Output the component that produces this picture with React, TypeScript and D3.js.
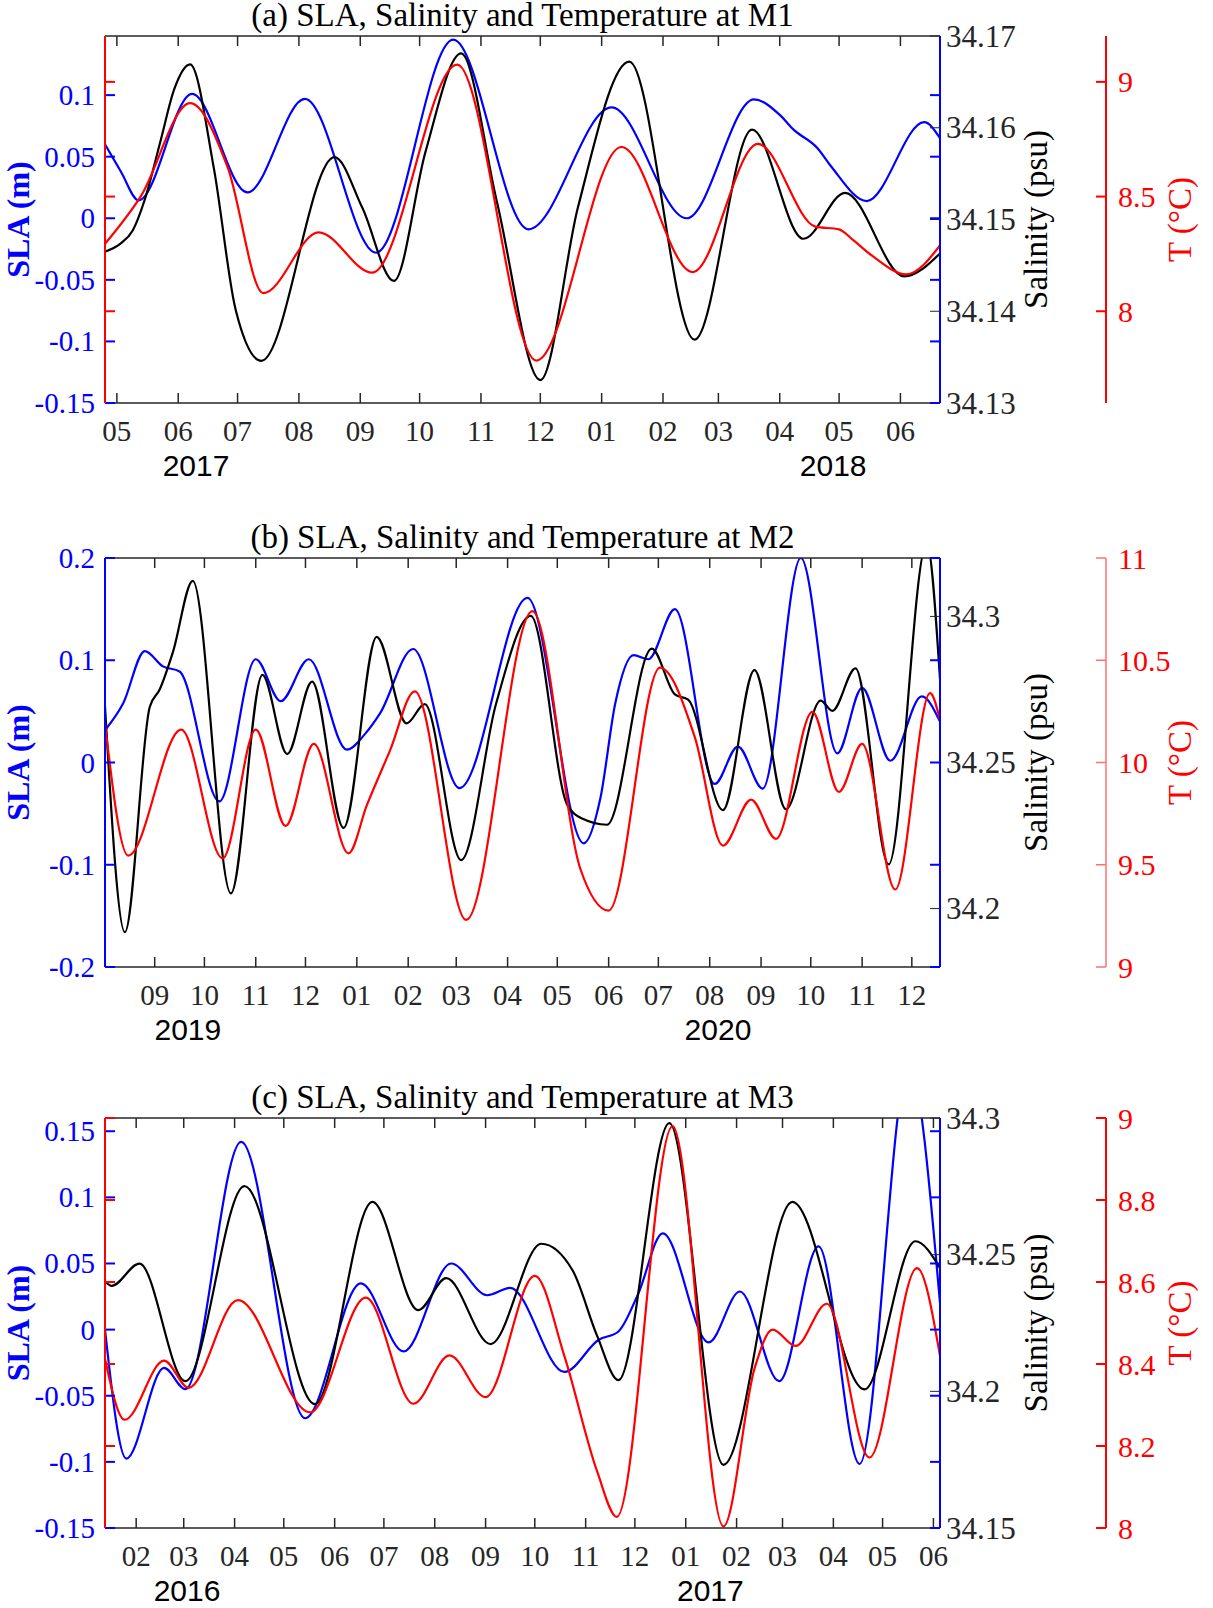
import * as d3 from 'd3';

type Pt = [string, number];

const parse = d3.timeParse('%Y-%m-%d');
const fmtMonth = d3.timeFormat('%m');

const SERIF = '"Liberation Serif", "Times New Roman", serif';
const SANS = '"Liberation Sans", Arial, sans-serif';

const BLUE = '#0000ff';
const RED = '#ff0000';
const AXIS = '#262626';

// ---------- (a) M1 ----------
const M1_SLA: Pt[] = [
  ['2017-04-25', 0.06], ['2017-05-03', 0.038], ['2017-05-12', 0.0146], ['2017-06-08', 0.101],
  ['2017-07-06', 0.021], ['2017-08-04', 0.097], ['2017-09-09', -0.028], ['2017-10-18', 0.145],
  ['2017-11-25', -0.009], ['2018-01-06', 0.09], ['2018-02-13', 0.0], ['2018-03-19', 0.0965],
  ['2018-04-01', 0.084], ['2018-04-08', 0.072], ['2018-04-20', 0.057], ['2018-04-27', 0.042],
  ['2018-05-15', 0.014], ['2018-06-13', 0.078], ['2018-06-21', 0.065],
];
const M1_SAL: Pt[] = [
  ['2017-04-25', 34.1465], ['2017-05-03', 34.1474], ['2017-05-09', 34.1488], ['2017-05-15', 34.1521],
  ['2017-05-23', 34.1585], ['2017-05-30', 34.1642], ['2017-06-07', 34.1669], ['2017-06-19', 34.1556],
  ['2017-06-30', 34.1402], ['2017-07-13', 34.1346], ['2017-08-19', 34.1568],
  ['2017-09-02', 34.1513], ['2017-09-18', 34.1433], ['2017-10-04', 34.1574], ['2017-10-22', 34.1681],
  ['2017-11-09', 34.152], ['2017-12-01', 34.1325], ['2017-12-20', 34.1513], ['2018-01-15', 34.1672],
  ['2018-02-17', 34.1369], ['2018-03-18', 34.1598], ['2018-04-13', 34.1479], ['2018-05-04', 34.1529],
  ['2018-06-03', 34.1438], ['2018-06-21', 34.1463],
];
const M1_TEMP: Pt[] = [
  ['2017-04-25', 8.294], ['2017-05-13', 8.5], ['2017-06-07', 8.907], ['2017-06-26', 8.627],
  ['2017-07-14', 8.079], ['2017-08-11', 8.344], ['2017-09-07', 8.168], ['2017-10-20', 9.075],
  ['2017-11-29', 7.785], ['2018-01-11', 8.716], ['2018-02-16', 8.171], ['2018-03-21', 8.73],
  ['2018-04-19', 8.369], ['2018-05-01', 8.357], ['2018-05-08', 8.311], ['2018-05-18', 8.24],
  ['2018-06-04', 8.161], ['2018-06-21', 8.287],
];
const M1_SLA_TICKS = [-0.15, -0.1, -0.05, 0, 0.05, 0.1];
const M1_SAL_TICKS = [34.13, 34.14, 34.15, 34.16, 34.17];
const M1_T_TICKS = [8, 8.5, 9];
const M1_YEARS: Pt[] = [['2017-06-10', 2017], ['2018-04-28', 2018]];

// ---------- (b) M2 ----------
const M2_SLA: Pt[] = [
  ['2019-08-02', 0.0315], ['2019-08-13', 0.058], ['2019-08-26', 0.109], ['2019-09-06', 0.094],
  ['2019-09-16', 0.089], ['2019-10-10', -0.038], ['2019-11-01', 0.101], ['2019-11-16', 0.06],
  ['2019-12-03', 0.101], ['2019-12-26', 0.0126], ['2020-01-06', 0.028], ['2020-01-15', 0.048],
  ['2020-02-04', 0.111], ['2020-03-03', -0.025], ['2020-04-13', 0.161], ['2020-05-17', -0.079],
  ['2020-05-27', -0.035], ['2020-06-05', 0.058], ['2020-06-16', 0.105], ['2020-06-25', 0.101],
  ['2020-07-11', 0.15], ['2020-08-04', -0.021], ['2020-08-18', 0.0156], ['2020-09-02', -0.0255],
  ['2020-09-25', 0.2], ['2020-10-17', 0.009], ['2020-11-01', 0.073], ['2020-11-18', 0.0017],
  ['2020-12-07', 0.0646], ['2020-12-18', 0.04],
];
const M2_SAL: Pt[] = [
  ['2019-08-02', 34.2692], ['2019-08-14', 34.1919], ['2019-08-29', 34.269], ['2019-09-04', 34.275],
  ['2019-09-12', 34.2878], ['2019-09-24', 34.3122], ['2019-10-17', 34.2052], ['2019-11-05', 34.28],
  ['2019-11-20', 34.2529], ['2019-12-05', 34.2777], ['2019-12-24', 34.2276], ['2020-01-13', 34.293],
  ['2020-01-31', 34.2634], ['2020-02-11', 34.27], ['2020-03-04', 34.2166], ['2020-03-25', 34.27],
  ['2020-04-15', 34.3002], ['2020-05-07', 34.2355], ['2020-05-16', 34.2308], ['2020-05-31', 34.2287],
  ['2020-06-27', 34.289], ['2020-07-11', 34.2733], ['2020-07-19', 34.2715], ['2020-08-09', 34.2337],
  ['2020-08-28', 34.2816], ['2020-09-16', 34.234], ['2020-10-07', 34.2712], ['2020-10-14', 34.2677],
  ['2020-10-28', 34.2822], ['2020-11-17', 34.2151], ['2020-12-10', 34.325], ['2020-12-18', 34.2785],
];
const M2_TEMP: Pt[] = [
  ['2019-08-02', 10.19], ['2019-08-16', 9.545], ['2019-09-17', 10.161], ['2019-10-12', 9.531],
  ['2019-11-01', 10.161], ['2019-11-19', 9.69], ['2019-12-06', 10.091], ['2019-12-27', 9.556],
  ['2020-01-07', 9.79], ['2020-01-21', 10.058], ['2020-02-05', 10.348], ['2020-03-07', 9.23],
  ['2020-04-16', 10.74], ['2020-05-15', 9.478], ['2020-06-01', 9.276], ['2020-07-02', 10.464],
  ['2020-07-23', 10.124], ['2020-08-09', 9.594], ['2020-08-26', 9.818], ['2020-09-10', 9.627],
  ['2020-10-02', 10.248], ['2020-10-18', 9.856], ['2020-11-01', 10.091], ['2020-11-21', 9.379],
  ['2020-12-12', 10.339], ['2020-12-18', 10.207],
];
const M2_SLA_TICKS = [-0.2, -0.1, 0, 0.1, 0.2];
const M2_SAL_TICKS = [34.2, 34.25, 34.3];
const M2_T_TICKS = [9, 9.5, 10, 10.5, 11];
const M2_YEARS: Pt[] = [['2019-09-21', 2019], ['2020-08-06', 2020]];

// ---------- (c) M3 ----------
const M3_SLA: Pt[] = [
  ['2016-01-13', 0.0], ['2016-01-26', -0.0975], ['2016-02-18', -0.029], ['2016-03-02', -0.045],
  ['2016-04-05', 0.142], ['2016-05-14', -0.067], ['2016-06-17', 0.035], ['2016-07-13', -0.0165],
  ['2016-08-11', 0.05], ['2016-09-02', 0.026], ['2016-09-16', 0.0316], ['2016-10-19', -0.032],
  ['2016-11-09', -0.0077], ['2016-11-21', -0.0014], ['2016-12-03', 0.027], ['2016-12-18', 0.0728],
  ['2017-01-15', -0.0096], ['2017-02-03', 0.0288], ['2017-02-27', -0.039], ['2017-03-23', 0.0629],
  ['2017-04-17', -0.1016], ['2017-05-17', 0.2], ['2017-06-05', 0.02],
];
const M3_SAL: Pt[] = [
  ['2016-01-13', 34.2403], ['2016-01-17', 34.2386], ['2016-02-03', 34.2467], ['2016-03-02', 34.2037],
  ['2016-04-07', 34.2751], ['2016-05-20', 34.1953], ['2016-06-24', 34.2693], ['2016-07-22', 34.2297],
  ['2016-08-08', 34.2414], ['2016-09-04', 34.2173], ['2016-10-05', 34.254], ['2016-10-24', 34.2443],
  ['2016-11-08', 34.2203], ['2016-11-21', 34.2041], ['2016-12-22', 34.2981], ['2017-01-24', 34.1731],
  ['2017-03-07', 34.2693], ['2017-04-20', 34.2007], ['2017-05-21', 34.2549], ['2017-06-05', 34.2451],
];
const M3_TEMP: Pt[] = [
  ['2016-01-13', 8.413], ['2016-01-25', 8.264], ['2016-02-18', 8.408], ['2016-03-04', 8.342],
  ['2016-04-03', 8.556], ['2016-05-17', 8.282], ['2016-06-20', 8.562], ['2016-07-19', 8.303],
  ['2016-08-10', 8.421], ['2016-09-01', 8.319], ['2016-10-01', 8.615], ['2016-10-19', 8.42],
  ['2016-11-08', 8.138], ['2016-11-20', 8.027], ['2016-12-24', 8.98], ['2017-01-24', 8.004],
  ['2017-02-12', 8.39], ['2017-02-23', 8.484], ['2017-03-09', 8.444], ['2017-03-28', 8.547],
  ['2017-04-23', 8.172], ['2017-05-22', 8.634], ['2017-06-05', 8.42],
];
const M3_SLA_TICKS = [-0.15, -0.1, -0.05, 0, 0.05, 0.1, 0.15];
const M3_SAL_TICKS = [34.15, 34.2, 34.25, 34.3];
const M3_T_TICKS = [8, 8.2, 8.4, 8.6, 8.8, 9];
const M3_YEARS: Pt[] = [['2016-03-03', 2016], ['2017-01-16', 2017]];

// ---------- layout ----------
const W = 1213;
const H = 1608;
const LEFT = 105;
const RIGHT = 940;
const T_AXIS_X = 1106;
const TICK = 10;

interface PanelCfg {
  id: string;
  title: string;
  top: number;
  bottom: number;
  xDomain: [string, string];
  slaDomain: [number, number];
  salDomain: [number, number];
  tDomain: [number, number];
  sla: Pt[];
  sal: Pt[];
  temp: Pt[];
  slaTicks: number[];
  salTicks: number[];
  tTicks: number[];
  years: Pt[];
  leftSpine: string;
  tLine: string;
  tLineWidth: number;
  tTicksOnLeft: boolean;
}

const PANELS: PanelCfg[] = [
  {
    id: 'a', title: '(a) SLA, Salinity and Temperature at M1', top: 36, bottom: 403,
    xDomain: ['2017-04-25', '2018-06-21'], slaDomain: [-0.15, 0.148], salDomain: [34.13, 34.17],
    tDomain: [7.6, 9.2], sla: M1_SLA, sal: M1_SAL, temp: M1_TEMP,
    slaTicks: M1_SLA_TICKS, salTicks: M1_SAL_TICKS, tTicks: M1_T_TICKS, years: M1_YEARS,
    leftSpine: RED, tLine: RED, tLineWidth: 2, tTicksOnLeft: true,
  },
  {
    id: 'b', title: '(b) SLA, Salinity and Temperature at M2', top: 558, bottom: 967,
    xDomain: ['2019-08-02', '2020-12-18'], slaDomain: [-0.2, 0.2], salDomain: [34.18, 34.32],
    tDomain: [9, 11], sla: M2_SLA, sal: M2_SAL, temp: M2_TEMP,
    slaTicks: M2_SLA_TICKS, salTicks: M2_SAL_TICKS, tTicks: M2_T_TICKS, years: M2_YEARS,
    leftSpine: BLUE, tLine: '#ff7070', tLineWidth: 1.5, tTicksOnLeft: false,
  },
  {
    id: 'c', title: '(c) SLA, Salinity and Temperature at M3', top: 1118, bottom: 1528,
    xDomain: ['2016-01-13', '2017-06-05'], slaDomain: [-0.15, 0.16], salDomain: [34.15, 34.3],
    tDomain: [8, 9], sla: M3_SLA, sal: M3_SAL, temp: M3_TEMP,
    slaTicks: M3_SLA_TICKS, salTicks: M3_SAL_TICKS, tTicks: M3_T_TICKS, years: M3_YEARS,
    leftSpine: RED, tLine: RED, tLineWidth: 2, tTicksOnLeft: true,
  },
];

function Panel({ cfg }: { cfg: PanelCfg }) {
  const { top, bottom } = cfg;
  const [x0, x1] = cfg.xDomain.map((d) => parse(d)!);
  const x = d3.scaleTime().domain([x0, x1]).range([LEFT, RIGHT]);
  const ySla = d3.scaleLinear().domain(cfg.slaDomain).range([bottom, top]);
  const ySal = d3.scaleLinear().domain(cfg.salDomain).range([bottom, top]);
  const yT = d3.scaleLinear().domain(cfg.tDomain).range([bottom, top]);

  const path = (data: Pt[], y: d3.ScaleLinear<number, number>) =>
    d3
      .line<Pt>()
      .x((d) => x(parse(d[0])!))
      .y((d) => y(d[1]))
      .curve(d3.curveMonotoneX)(data) ?? '';

  const months = d3.timeMonth.range(d3.timeMonth.ceil(x0), x1);
  const midY = (top + bottom) / 2;
  const clipId = `clip-${cfg.id}`;

  return (
    <g>
      <defs>
        <clipPath id={clipId}>
          <rect x={LEFT} y={top} width={RIGHT - LEFT} height={bottom - top} />
        </clipPath>
      </defs>

      {/* title */}
      <text x={(LEFT + RIGHT) / 2} y={top - 10} textAnchor='middle' fontFamily={SERIF} fontSize={33} fill='#000'>
        {cfg.title}
      </text>

      {/* series */}
      <g clipPath={`url(#${clipId})`} fill='none' strokeWidth={2.2} strokeLinejoin='round'>
        <path d={path(cfg.sla, ySla)} stroke={BLUE} />
        <path d={path(cfg.sal, ySal)} stroke='#000' />
        <path d={path(cfg.temp, yT)} stroke={RED} />
      </g>

      {/* month ticks, top and bottom */}
      {months.map((m) => (
        <g key={m.getTime()}>
          <line x1={x(m)} x2={x(m)} y1={top} y2={top + TICK} stroke={AXIS} strokeWidth={1.5} />
          <line x1={x(m)} x2={x(m)} y1={bottom} y2={bottom - TICK} stroke={AXIS} strokeWidth={1.5} />
          <text x={x(m)} y={bottom + 38} textAnchor='middle' fontFamily={SERIF} fontSize={29} fill={AXIS}>
            {fmtMonth(m)}
          </text>
        </g>
      ))}
      {cfg.years.map(([d, yr]) => (
        <text key={yr} x={x(parse(d)!)} y={bottom + 73} textAnchor='middle' fontFamily={SANS} fontSize={30} fill='#000'>
          {yr}
        </text>
      ))}

      {/* top / bottom spines */}
      <line x1={LEFT} x2={RIGHT} y1={top} y2={top} stroke={AXIS} strokeWidth={1.5} />
      <line x1={LEFT} x2={RIGHT} y1={bottom} y2={bottom} stroke={AXIS} strokeWidth={1.5} />

      {/* salinity ticks on right spine */}
      {cfg.salTicks.map((t) => (
        <g key={`s${t}`}>
          <line x1={RIGHT} x2={RIGHT - TICK} y1={ySal(t)} y2={ySal(t)} stroke={AXIS} strokeWidth={1} />
          <text x={946} y={ySal(t)} dominantBaseline='central' fontFamily={SERIF} fontSize={31} fill={AXIS}>
            {String(t)}
          </text>
        </g>
      ))}

      {/* temperature ticks mirrored on left spine */}
      {cfg.tTicksOnLeft &&
        cfg.tTicks.map((t) => (
          <line key={`tl${t}`} x1={LEFT} x2={LEFT + TICK} y1={yT(t)} y2={yT(t)} stroke={RED} strokeWidth={2} />
        ))}

      {/* SLA ticks left and right */}
      {cfg.slaTicks.map((t) => (
        <g key={`a${t}`}>
          <line x1={LEFT} x2={LEFT + TICK} y1={ySla(t)} y2={ySla(t)} stroke={BLUE} strokeWidth={2} />
          <line x1={RIGHT} x2={RIGHT - TICK} y1={ySla(t)} y2={ySla(t)} stroke={BLUE} strokeWidth={2} />
          <text x={95} y={ySla(t)} textAnchor='end' dominantBaseline='central' fontFamily={SERIF} fontSize={29} fill={BLUE}>
            {String(t)}
          </text>
        </g>
      ))}

      {/* left / right spines */}
      <line x1={LEFT} x2={LEFT} y1={top} y2={bottom} stroke={cfg.leftSpine} strokeWidth={2} />
      <line x1={RIGHT} x2={RIGHT} y1={top} y2={bottom} stroke={BLUE} strokeWidth={2} />

      {/* detached temperature axis */}
      <line x1={T_AXIS_X} x2={T_AXIS_X} y1={top} y2={bottom} stroke={cfg.tLine} strokeWidth={cfg.tLineWidth} />
      {cfg.tTicks.map((t) => (
        <g key={`t${t}`}>
          <line x1={T_AXIS_X - TICK} x2={T_AXIS_X} y1={yT(t)} y2={yT(t)} stroke={cfg.tLine} strokeWidth={cfg.tLineWidth} />
          <text x={T_AXIS_X + 12} y={yT(t)} dominantBaseline='central' fontFamily={SERIF} fontSize={30} fill={RED}>
            {String(t)}
          </text>
        </g>
      ))}

      {/* axis labels */}
      <text transform={`translate(18,${midY}) rotate(-90)`} textAnchor='middle' dominantBaseline='central' fontFamily={SERIF} fontWeight='bold' fontSize={32} fill={BLUE}>
        SLA (m)
      </text>
      <text transform={`translate(1036,${midY}) rotate(-90)`} textAnchor='middle' dominantBaseline='central' fontFamily={SERIF} fontSize={33} fill='#000'>
        Salinity (psu)
      </text>
      <text transform={`translate(1180,${midY}) rotate(-90)`} textAnchor='middle' dominantBaseline='central' fontFamily={SERIF} fontSize={33} fill={RED}>
        T (°C)
      </text>
    </g>
  );
}

export default function App() {
  return (
    <svg
      width={W}
      height={H}
      viewBox={`0 0 ${W} ${H}`}
      style={{ position: 'absolute', left: 0, top: 0, background: '#fff' }}
    >
      {PANELS.map((p) => (
        <Panel key={p.id} cfg={p} />
      ))}
    </svg>
  );
}
